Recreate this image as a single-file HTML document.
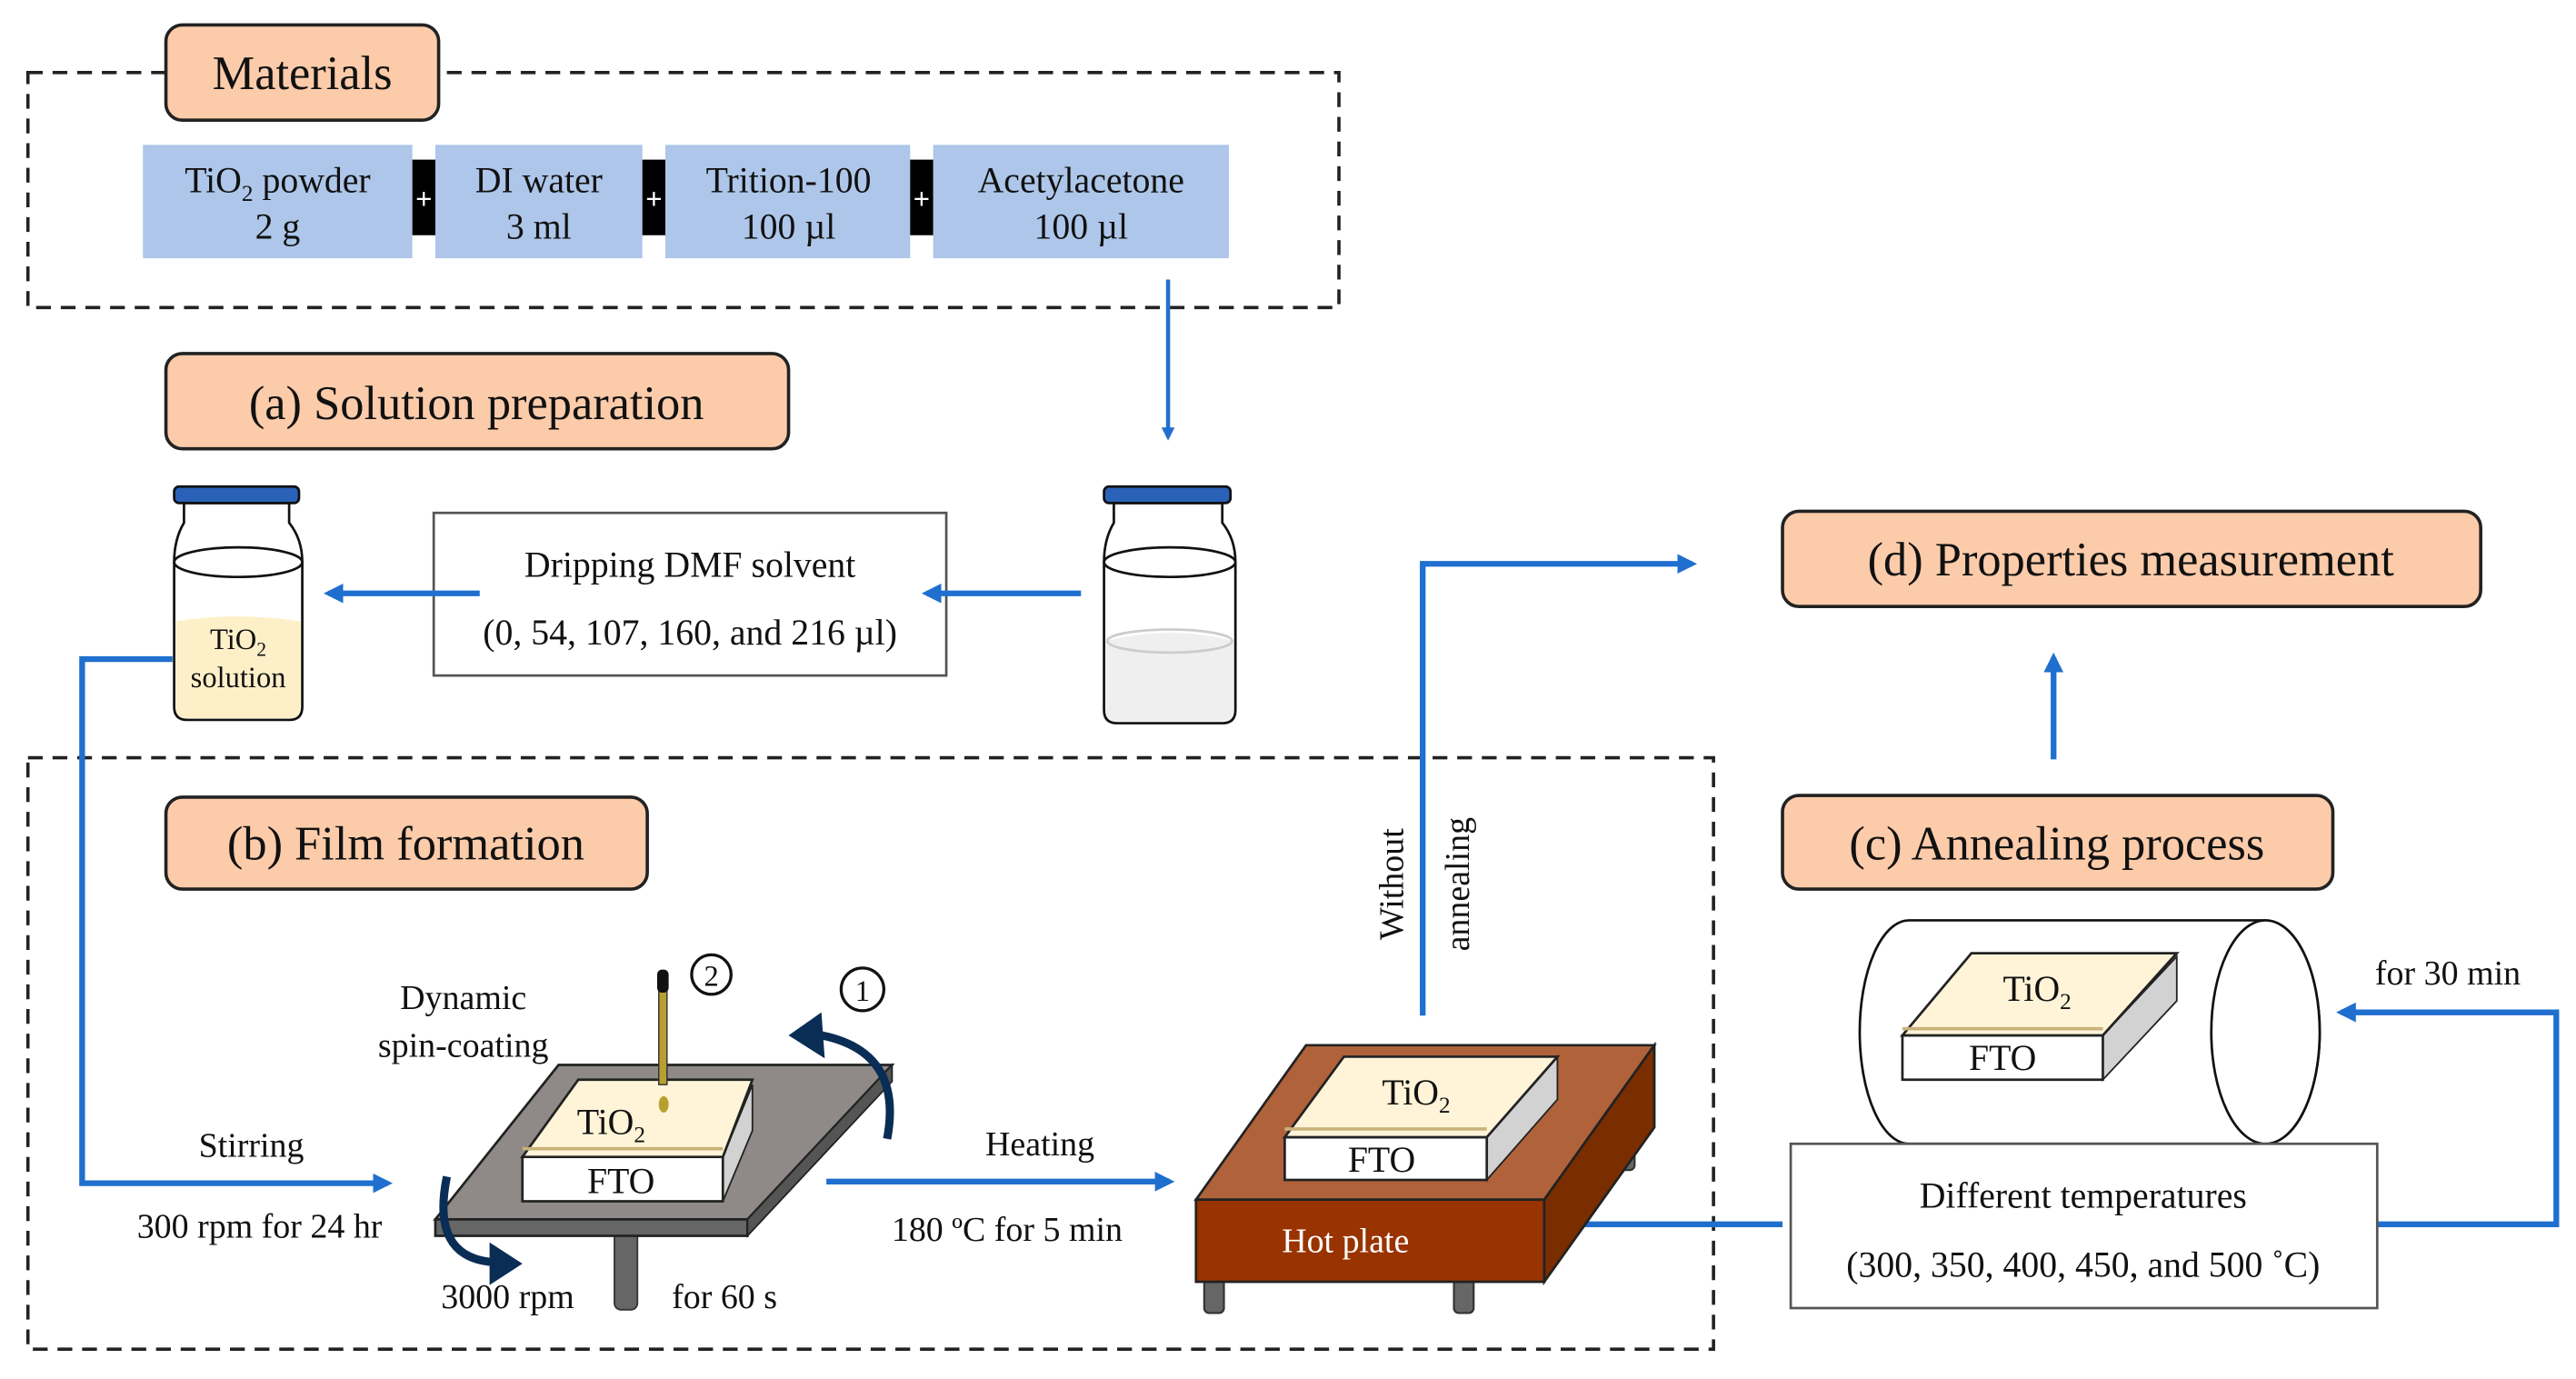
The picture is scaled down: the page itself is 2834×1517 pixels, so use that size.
<!DOCTYPE html>
<html><head><meta charset="utf-8"><style>
html,body{margin:0;padding:0;background:#fff}
svg{display:block}
text{font-family:"Liberation Serif",serif;fill:#111}
</style></head><body>
<svg width="2834" height="1517" viewBox="0 0 1568 839" xmlns="http://www.w3.org/2000/svg">
<defs>
<marker id="ah" markerWidth="8" markerHeight="8" refX="6" refY="4" orient="auto" markerUnits="userSpaceOnUse"><path d="M0,0 L8,4 L0,8 Z" fill="#1f6fcf"/></marker>
<marker id="ah2" markerWidth="12" markerHeight="12" refX="9" refY="6" orient="auto" markerUnits="userSpaceOnUse"><path d="M0,0 L12,6 L0,12 Z" fill="#1f6fcf"/></marker>
</defs>
<rect width="1568" height="839" fill="#fff"/>
<!-- dashed boxes -->
<rect x="17" y="44" width="798" height="143" fill="none" stroke="#222" stroke-width="2" stroke-dasharray="9,6"/>
<rect x="17" y="461" width="1026" height="360" fill="none" stroke="#222" stroke-width="2" stroke-dasharray="9,6"/>
<!-- labels -->
<g stroke="#222" stroke-width="2" fill="#fccbaa">
<rect x="101" y="15" width="166" height="58" rx="10"/>
<rect x="101" y="215" width="379" height="58" rx="10"/>
<rect x="101" y="485" width="293" height="56" rx="10"/>
<rect x="1085" y="311" width="425" height="58" rx="10"/>
<rect x="1085" y="484" width="335" height="57" rx="10"/>
</g>
<g font-size="29" text-anchor="middle">
<text x="184" y="54">Materials</text>
<text x="290" y="255">(a) Solution preparation</text>
<text x="247" y="523">(b) Film formation</text>
<text x="1297" y="350">(d) Properties measurement</text>
<text x="1252" y="523">(c) Annealing process</text>
</g>
<!-- material boxes -->
<g fill="#adc6e9">
<rect x="87" y="88" width="164" height="69"/>
<rect x="265" y="88" width="126" height="69"/>
<rect x="405" y="88" width="149" height="69"/>
<rect x="568" y="88" width="180" height="69"/>
</g>
<g fill="#000"><rect x="251" y="97" width="14" height="46"/><rect x="391" y="97" width="14" height="46"/><rect x="554" y="97" width="14" height="46"/></g>
<g font-size="18" text-anchor="middle" font-weight="bold"><text x="258" y="127" style="fill:#fff">+</text><text x="398" y="127" style="fill:#fff">+</text><text x="561" y="127" style="fill:#fff">+</text></g>
<g font-size="22" text-anchor="middle">
<text x="169" y="117">TiO<tspan font-size="14" dy="5">2</tspan><tspan dy="-5"> powder</tspan></text>
<text x="169" y="145">2 g</text>
<text x="328" y="117">DI water</text><text x="328" y="145">3 ml</text>
<text x="480" y="117">Trition-100</text><text x="480" y="145">100 µl</text>
<text x="658" y="117">Acetylacetone</text><text x="658" y="145">100 µl</text>
</g>
<!-- DMF box -->
<rect x="264" y="312" width="312" height="99" fill="#fff" stroke="#555" stroke-width="1.5"/>
<g font-size="22" text-anchor="middle"><text x="420" y="351">Dripping DMF solvent</text><text x="420" y="392">(0, 54, 107, 160, and 216 µl)</text></g>
<!-- arrows -->
<g stroke="#1f6fcf" stroke-width="3.5" fill="none">
<line x1="711" y1="170" x2="711" y2="266" stroke-width="2.5" marker-end="url(#ah)"/>
<line x1="658" y1="361" x2="564" y2="361" marker-end="url(#ah2)"/>
<line x1="292" y1="361" x2="200" y2="361" marker-end="url(#ah2)"/>
<polyline points="105,401 50,401 50,720 236,720" marker-end="url(#ah2)"/>
<line x1="503" y1="719" x2="712" y2="719" marker-end="url(#ah2)"/>
<polyline points="866,618 866,343 1030,343" marker-end="url(#ah2)"/>
<line x1="1250" y1="462" x2="1250" y2="400" marker-end="url(#ah2)"/>
<polyline points="948,745 1085,745"/>
<polyline points="1447,745 1556,745 1556,616 1425,616" marker-end="url(#ah2)"/>
</g>
<!-- jars -->
<g stroke="#111" stroke-width="1.5">
<path d="M112,306 L112,318 Q106,328 106,342 L106,430 Q106,438 114,438 L176,438 Q184,438 184,430 L184,342 Q184,328 176,318 L176,306 Z" fill="#fff"/>
<path d="M107,378 Q145,372 183,378 L183,430 Q183,437 176,437 L114,437 Q107,437 107,430 Z" fill="#fdf0c8" stroke="none"/>
<ellipse cx="145" cy="342" rx="39" ry="9" fill="none"/>
<rect x="106" y="296" width="76" height="10" rx="3" fill="#2a62b8"/>
<path d="M678,306 L678,318 Q672,328 672,342 L672,432 Q672,440 680,440 L744,440 Q752,440 752,432 L752,342 Q752,328 744,318 L744,306 Z" fill="#fff"/>
<path d="M673,390 Q712,380 751,390 L751,432 Q751,439 744,439 L680,439 Q673,439 673,432 Z" fill="#efefef" stroke="none"/>
<ellipse cx="712" cy="390" rx="38" ry="7" fill="none" stroke="#ccc"/>
<ellipse cx="712" cy="342" rx="40" ry="9" fill="none"/>
<rect x="672" y="296" width="77" height="10" rx="3" fill="#2a62b8"/>
</g>
<text x="145" y="395" font-size="18" text-anchor="middle">TiO<tspan font-size="12" dy="4">2</tspan></text>
<text x="145" y="418" font-size="18" text-anchor="middle">solution</text>
<!-- spin coater -->
<rect x="374" y="745" width="14" height="52" rx="4" fill="#666" stroke="#333"/>
<path d="M265,742 L340,648 L543,648 L455,742 Z" fill="#8f8a88" stroke="#222" stroke-width="1.5"/>
<path d="M265,742 L455,742 L455,752 L265,752 Z" fill="#666" stroke="#222" stroke-width="1.5"/>
<path d="M455,742 L543,648 L543,658 L455,752 Z" fill="#555" stroke="#222"/>
<path d="M440,704 L458,660 L458,688 L440,731 Z" fill="#d2d2d2" stroke="#222"/>
<rect x="318" y="704" width="122" height="27" fill="#fff" stroke="#222" stroke-width="1.5"/>
<path d="M318,704 L352,657 L458,657 L440,704 Z" fill="#fff4d8" stroke="#222" stroke-width="1.5"/>
<line x1="318" y1="699" x2="440" y2="699" stroke="#c9b27a" stroke-width="2"/>
<text x="372" y="690" font-size="22" text-anchor="middle">TiO<tspan font-size="14" dy="5">2</tspan></text>
<text x="378" y="726" font-size="22" text-anchor="middle">FTO</text>
<rect x="401" y="602" width="5" height="58" fill="#b8a030" stroke="#333" stroke-width="0.8"/>
<rect x="400" y="590" width="7" height="14" rx="3" fill="#111"/>
<ellipse cx="404" cy="672" rx="3" ry="5" fill="#b8a030"/>
<circle cx="433" cy="593" r="12" fill="#fff" stroke="#111" stroke-width="1.8"/>
<text x="433" y="600" font-size="18" text-anchor="middle">2</text>
<circle cx="525" cy="602" r="13" fill="#fff" stroke="#111" stroke-width="1.8"/>
<text x="525" y="609" font-size="18" text-anchor="middle">1</text>
<path d="M540,693 Q550,640 500,630" stroke="#0a2d55" stroke-width="5" fill="none"/>
<path d="M480,630 L500,616 L502,644 Z" fill="#0a2d55"/>
<path d="M272,716 Q262,765 300,768" stroke="#0a2d55" stroke-width="5" fill="none"/>
<path d="M318,769 L298,756 L298,782 Z" fill="#0a2d55"/>
<g font-size="21" text-anchor="middle">
<text x="282" y="614">Dynamic</text><text x="282" y="643">spin-coating</text>
<text x="153" y="704">Stirring</text><text x="158" y="753">300 rpm for 24 hr</text>
<text x="309" y="796">3000 rpm</text><text x="441" y="796">for 60 s</text>
<text x="633" y="703">Heating</text><text x="613" y="755">180 ºC for 5 min</text>
</g>
<!-- hot plate -->
<g stroke="#333" stroke-width="1.2" fill="#666">
<rect x="985" y="680" width="10" height="32" rx="3"/>
<rect x="733" y="775" width="12" height="24" rx="3"/>
<rect x="885" y="775" width="12" height="24" rx="3"/>
</g>
<path d="M728,730 L795,636 L1007,636 L940,730 Z" fill="#b0623a" stroke="#222" stroke-width="1.5"/>
<rect x="728" y="730" width="212" height="50" fill="#993300" stroke="#222" stroke-width="1.5"/>
<path d="M940,730 L1007,636 L1007,686 L940,780 Z" fill="#7a2e00" stroke="#222" stroke-width="1.5"/>
<text x="819" y="762" font-size="21" text-anchor="middle" style="fill:#fff">Hot plate</text>
<path d="M905,692 L948,643 L948,669 L905,718 Z" fill="#d2d2d2" stroke="#222"/>
<rect x="782" y="692" width="123" height="26" fill="#fff" stroke="#222" stroke-width="1.5"/>
<path d="M782,692 L818,643 L948,643 L905,692 Z" fill="#fff4d8" stroke="#222" stroke-width="1.5"/>
<line x1="782" y1="687" x2="905" y2="687" stroke="#c9b27a" stroke-width="2"/>
<text x="862" y="672" font-size="22" text-anchor="middle">TiO<tspan font-size="14" dy="5">2</tspan></text>
<text x="841" y="713" font-size="22" text-anchor="middle">FTO</text>
<text transform="translate(854,538) rotate(-90)" font-size="21" text-anchor="middle">Without</text>
<text transform="translate(894,538) rotate(-90)" font-size="21" text-anchor="middle">annealing</text>
<!-- furnace -->
<path d="M1162,560 L1379,560 A33,68 0 0 1 1379,696 L1162,696 A30,68 0 0 1 1162,560 Z" fill="#fff" stroke="#111" stroke-width="1.5"/>
<ellipse cx="1379" cy="628" rx="33" ry="68" fill="#fff" stroke="#111" stroke-width="1.5"/>
<path d="M1280,630 L1325,582 L1325,609 L1280,657 Z" fill="#d2d2d2" stroke="#222"/>
<rect x="1158" y="630" width="122" height="27" fill="#fff" stroke="#222" stroke-width="1.5"/>
<path d="M1158,630 L1200,580 L1325,580 L1280,630 Z" fill="#fff4d8" stroke="#222" stroke-width="1.5"/>
<line x1="1158" y1="626" x2="1280" y2="626" stroke="#c9b27a" stroke-width="2"/>
<text x="1240" y="609" font-size="22" text-anchor="middle">TiO<tspan font-size="14" dy="5">2</tspan></text>
<text x="1219" y="651" font-size="22" text-anchor="middle">FTO</text>
<text x="1490" y="599" font-size="21" text-anchor="middle">for 30 min</text>
<rect x="1090" y="696" width="357" height="100" fill="#fff" stroke="#555" stroke-width="1.5"/>
<g font-size="22" text-anchor="middle"><text x="1268" y="735">Different temperatures</text><text x="1268" y="777">(300, 350, 400, 450, and 500 ˚C)</text></g>
</svg>
</body></html>
